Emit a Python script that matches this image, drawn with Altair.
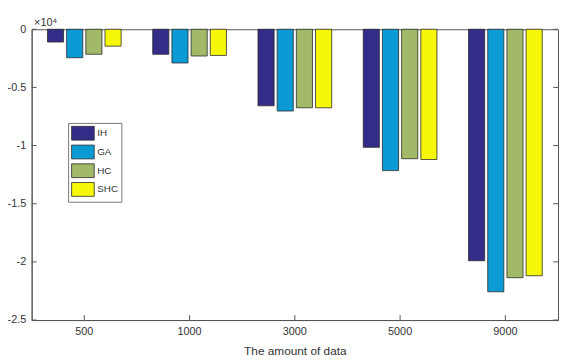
import altair as alt
import pandas as pd

categories = ["500", "1000", "3000", "5000", "9000"]
series = ["IH", "GA", "HC", "SHC"]
ih = [-1100, -2150, -6580, -10150, -19900]
ga = [-2450, -2900, -7030, -12150, -22570]
hc = [-2150, -2300, -6750, -11130, -21360]
shc = [-1450, -2250, -6750, -11200, -21190]
colors = ["#332c88", "#0a9bd4", "#a2b968", "#f7f70a"]
y_ticks = [0, -5000, -10000, -15000, -20000, -25000]

rows = []
for s, vals in zip(series, [ih, ga, hc, shc]):
    for c, v in zip(categories, vals):
        rows.append({"n": c, "series": s, "value": v})
df = pd.DataFrame(rows)

W, H = 534, 295
FONT = "Liberation Sans"
AX = "#555555"
TXT = "#333333"

xscale = alt.Scale(paddingInner=0.3, paddingOuter=0.15)
yscale = alt.Scale(domain=[-25000, 0], nice=False)

bars = alt.Chart(df).mark_bar(stroke="#2a2a2a", strokeWidth=0.8).encode(
    x=alt.X("n:N", sort=categories, scale=xscale,
            axis=alt.Axis(title="The amount of data", labelAngle=0, ticks=False,
                          labelPadding=6, titlePadding=9, domainColor=AX,
                          labelColor=TXT, titleColor=TXT, labelFontSize=11,
                          titleFontSize=12, labelFont=FONT, titleFont=FONT,
                          titleFontWeight="normal")),
    xOffset=alt.XOffset("series:N", sort=series,
                        scale=alt.Scale(paddingInner=0.16, paddingOuter=0)),
    y=alt.Y("value:Q", scale=yscale,
            axis=alt.Axis(values=y_ticks, labelExpr="'' + datum.value / 10000",
                          title="×10⁴", titleAngle=0, titleAlign="left",
                          titleBaseline="bottom", titleX=2, titleY=-2,
                          titleFontSize=11, titleFontWeight="normal",
                          titleFont=FONT, titleColor=TXT, ticks=False,
                          grid=False, labelPadding=6, domainColor=AX,
                          labelColor=TXT, labelFontSize=11, labelFont=FONT)),
    color=alt.Color("series:N", sort=series,
                    scale=alt.Scale(domain=series, range=colors),
                    legend=alt.Legend(title=None, orient="none", legendX=37, legendY=95,
                                      symbolType="M-1.64,-1L1.64,-1L1.64,1L-1.64,1Z",
                                      symbolSize=196, symbolStrokeColor="#2a2a2a",
                                      symbolStrokeWidth=0.8, symbolOpacity=1,
                                      symbolOffset=4.5, labelOffset=7,
                                      labelFontSize=10, labelFont=FONT, labelColor=TXT,
                                      rowPadding=0, padding=3, strokeColor="#777777",
                                      fillColor="white")),
)

tick_df = pd.DataFrame({"t": y_ticks})
yt_left = alt.Chart(tick_df).mark_rule(color=AX).encode(
    y=alt.Y("t:Q", scale=yscale), x=alt.value(0), x2=alt.value(5))
yt_right = alt.Chart(tick_df).mark_rule(color=AX).encode(
    y=alt.Y("t:Q", scale=yscale), x=alt.value(W - 5), x2=alt.value(W))
xt = alt.Chart(pd.DataFrame({"n": categories})).mark_rule(color=AX).encode(
    x=alt.X("n:N", sort=categories, scale=xscale, bandPosition=0.5),
    y=alt.value(H - 5), y2=alt.value(H))

chart = alt.layer(bars, yt_left, yt_right, xt).properties(
    width=W, height=H,
    autosize=alt.AutoSizeParams(type="none"),
    padding={"left": 24, "top": 19, "right": 1, "bottom": 40},
).configure_view(stroke=AX, strokeWidth=1)

chart.save("out.html", embed_options={"renderer": "svg", "actions": False})
